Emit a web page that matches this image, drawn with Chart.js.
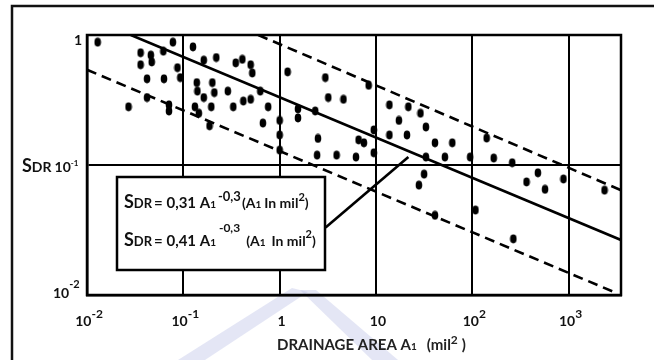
<!DOCTYPE html>
<html>
<head>
<meta charset="utf-8">
<script src="https://cdn.jsdelivr.net/npm/chart.js@4.4.1/dist/chart.umd.min.js"></script>
<style>
  html, body { margin: 0; padding: 0; background: #fff; }
</style>
</head>
<body>
<canvas id="sdr-chart" width="654" height="360"></canvas>
<script>
// drainage area A1 (mi²) and sediment delivery ratio
const areas = [0.0129, 0.036, 0.036, 0.046, 0.047, 0.078, 0.062, 0.042, 0.063, 0.087,
  0.093, 0.042, 0.027, 0.071, 0.071, 0.126, 0.163, 0.22, 0.35, 0.41,
  0.50, 0.52, 0.138, 0.14, 0.163, 0.20, 0.21, 0.195, 0.29, 0.33,
  0.42, 0.50, 0.63, 0.76, 0.67, 0.132, 0.145, 0.187, 1.0, 1.0,
  1.0, 1.21, 2.98, 3.2, 4.6, 1.55, 1.55, 2.34, 2.5, 6.6,
  7.5, 2.45, 3.9, 6.2, 8.4, 9.5, 9.5, 13.8, 21.7, 29,
  17.3, 33, 13.8, 21, 41, 62, 33, 52, 95, 141,
  167, 260, 480, 885, 31.6, 27.9, 41, 108, 267, 366,
  569, 2360];
const sdr = [0.88, 0.73, 0.59, 0.70, 0.62, 0.88, 0.75, 0.46, 0.46, 0.56,
  0.47, 0.33, 0.28, 0.29, 0.26, 0.81, 0.64, 0.67, 0.61, 0.65,
  0.59, 0.51, 0.43, 0.37, 0.33, 0.43, 0.36, 0.28, 0.37, 0.28,
  0.31, 0.32, 0.37, 0.28, 0.21, 0.28, 0.25, 0.20, 0.22, 0.17,
  0.13, 0.52, 0.47, 0.33, 0.32, 0.27, 0.23, 0.26, 0.16, 0.156,
  0.148, 0.119, 0.119, 0.115, 0.41, 0.186, 0.124, 0.29, 0.28, 0.25,
  0.22, 0.196, 0.17, 0.17, 0.148, 0.148, 0.115, 0.115, 0.115, 0.161,
  0.113, 0.104, 0.087, 0.078, 0.085, 0.070, 0.041, 0.045, 0.027, 0.074,
  0.065, 0.064];

// end points of the three drawn lines and the leader to the box
const midX = [0.0285, 3500], midY = [1, 0.0265];
const upX = [0.6, 3500], upY = [1, 0.064];
const lowX = [0.01, 3000], lowY = [0.54, 0.0105];
const leadX = [3.0, 21.7], leadY = [0.033, 0.115];

// axis ticks and their labels (base + exponent)
const xTicks = [0.01, 0.1, 1, 10, 100, 1000];
const xBase = ['10', '10', '1', '10', '10', '10'];
const xExp = ['-2', '-1', '', '', '2', '3'];
const yTicks = [0.01, 0.1, 1];

const FONT = 'Lato, "Liberation Sans", sans-serif';

const pts = (xs, ys) => xs.map((x, i) => ({ x, y: ys[i] }));

// slightly tall ink dot
const dot = document.createElement('canvas');
dot.width = 8; dot.height = 10;
(() => {
  const d = dot.getContext('2d');
  d.fillStyle = '#000';
  d.beginPath();
  d.ellipse(4, 5, 3.3, 4.4, 0, 0, Math.PI * 2);
  d.fill();
})();

// draw a row of text pieces with their own sizes and offsets
function runs(ctx, x, y, parts) {
  let cx = x;
  for (const p of parts) {
    ctx.font = `bold ${p.s}px ${FONT}`;
    ctx.fillText(p.t, cx, y + (p.dy || 0));
    cx += ctx.measureText(p.t).width + (p.g || 0);
  }
  return cx;
}
function runsWidth(ctx, parts) {
  let w = 0;
  for (const p of parts) {
    ctx.font = `bold ${p.s}px ${FONT}`;
    w += ctx.measureText(p.t).width + (p.g || 0);
  }
  return w;
}

const decor = {
  id: 'decor',
  beforeDraw(chart) {
    const c = chart.ctx;
    c.save();
    c.fillStyle = '#fff';
    c.fillRect(0, 0, chart.width, chart.height);
    // faint watermark bands behind the axis title
    c.fillStyle = 'rgba(196, 200, 232, 0.45)';
    c.beginPath();
    c.moveTo(292, 288); c.lineTo(308, 292); c.lineTo(205, 360); c.lineTo(178, 360);
    c.closePath(); c.fill();
    c.beginPath();
    c.moveTo(300, 290); c.lineTo(316, 290); c.lineTo(398, 360); c.lineTo(372, 360);
    c.closePath(); c.fill();
    c.strokeStyle = '#111';
    c.lineWidth = 2.5;
    c.beginPath();
    c.moveTo(12, 360);
    c.lineTo(12, 6);
    c.lineTo(654, 6);
    c.stroke();
    c.restore();
  },
  afterDraw(chart) {
    const c = chart.ctx;
    const a = chart.chartArea;
    const xs = chart.scales.x, ys = chart.scales.y;
    c.save();
    c.strokeStyle = '#000';
    c.lineWidth = 2.5;
    c.strokeRect(a.left, a.top, a.right - a.left, a.bottom - a.top);

    // equation box
    c.fillStyle = '#fff';
    c.fillRect(117, 177, 208, 93);
    c.strokeRect(117, 177, 208, 93);
    c.fillStyle = '#111';
    c.textBaseline = 'alphabetic';
    runs(c, 124, 208, [
      { t: 'S', s: 18 }, { t: 'DR', s: 13, g: 2 }, { t: '= 0,31 A', s: 15 },
      { t: '1', s: 10, g: 2 }, { t: '-0,3', s: 13, dy: -7, g: 1 },
      { t: '(A', s: 14 }, { t: '1', s: 10, g: 3 }, { t: 'In mil', s: 14 },
      { t: '2', s: 11, dy: -7 }, { t: ')', s: 14 }
    ]);
    runs(c, 124, 246, [
      { t: 'S', s: 18 }, { t: 'DR', s: 13, g: 2 }, { t: '= 0,41 A', s: 15 },
      { t: '1', s: 10, g: 3 }, { t: '-0,3', s: 12, dy: -14, g: 6 },
      { t: '(A', s: 14 }, { t: '1', s: 10, g: 6 }, { t: 'In mil', s: 14 },
      { t: '2', s: 11, dy: -8 }, { t: ')', s: 14 }
    ]);

    // x tick labels
    xTicks.forEach((v, i) => {
      const parts = [{ t: xBase[i], s: 14 }];
      if (xExp[i]) parts.push({ t: xExp[i], s: 12, dy: -8 });
      const w = runsWidth(c, parts);
      runs(c, xs.getPixelForValue(v) - w / 2 + 2, 326, parts);
    });

    // y tick labels
    c.font = `bold 14px ${FONT}`;
    c.fillText('1', 74, ys.getPixelForValue(1) + 10);
    runs(c, 22, ys.getPixelForValue(0.1) + 7, [
      { t: 'S', s: 18 }, { t: 'DR', s: 14, g: 3 }, { t: '10', s: 14 }, { t: '-1', s: 8, dy: -6 }
    ]);
    runs(c, 53, ys.getPixelForValue(0.01) + 3, [
      { t: '10', s: 14 }, { t: '-2', s: 11, dy: -10 }
    ]);

    // x axis title
    c.fillStyle = '#222';
    runs(c, 277, 350, [
      { t: 'DRAINAGE AREA A', s: 15 }, { t: '1', s: 10, g: 10 },
      { t: '(mil', s: 15 }, { t: '2', s: 12, dy: -6, g: 4 }, { t: ')', s: 15 }
    ]);
    c.restore();
  }
};

const lineSet = (data, dash) => ({
  data, showLine: true, borderColor: '#000', borderWidth: 2.6,
  borderDash: dash || [], pointRadius: 0, fill: false
});

new Chart(document.getElementById('sdr-chart'), {
  type: 'scatter',
  data: {
    datasets: [
      { data: pts(areas, sdr), pointStyle: dot, pointRadius: 4, backgroundColor: '#000' },
      lineSet(pts(midX, midY)),
      lineSet(pts(upX, upY), [10, 6]),
      lineSet(pts(lowX, lowY), [10, 6]),
      lineSet(pts(leadX, leadY))
    ]
  },
  options: {
    responsive: false,
    animation: false,
    layout: { padding: { left: 87, right: 33, top: 35, bottom: 65 } },
    plugins: { legend: { display: false }, tooltip: { enabled: false } },
    scales: {
      x: {
        type: 'logarithmic', min: 0.01, max: 3500,
        afterBuildTicks: s => { s.ticks = xTicks.map(v => ({ value: v })); },
        ticks: { display: false },
        grid: { color: '#000', lineWidth: 2, drawTicks: false },
        border: { color: '#000', width: 2.5 }
      },
      y: {
        type: 'logarithmic', min: 0.01, max: 1,
        afterBuildTicks: s => { s.ticks = yTicks.map(v => ({ value: v })); },
        ticks: { display: false },
        grid: { color: '#000', lineWidth: 2, drawTicks: false },
        border: { color: '#000', width: 2.5 }
      }
    }
  },
  plugins: [decor]
});
</script>
</body>
</html>
